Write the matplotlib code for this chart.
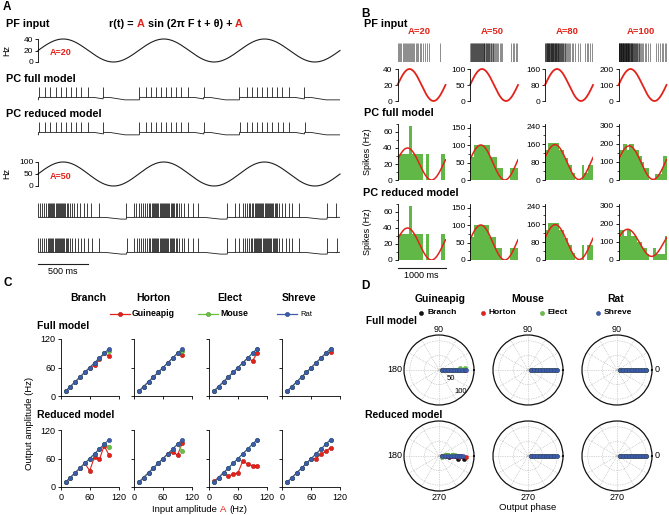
import numpy as np
import matplotlib
matplotlib.use('Agg')
import matplotlib.pyplot as plt
import matplotlib.transforms as mtransforms
from matplotlib.ticker import MultipleLocator
from matplotlib.offsetbox import TextArea, HPacker, AnnotationBbox

plt.rcParams['font.family'] = ['Liberation Sans', 'DejaVu Sans']

W, H = 669, 515
RED = '#e2231a'
GREEN = '#6abf45'
BLUE = '#3f5ca9'
BAR = '#62b846'
INK = '#1e1e1e'

# ---------------- A: PF input and PC voltage traces (times in ms) ----------------
A_amps = [20, 50]
F = 1.0  # Hz

spikes20_full = [5, 72, 123, 175, 225, 275, 325, 374, 424, 495, 647,
                 1008, 1074, 1124, 1174, 1223, 1273, 1323, 1372, 1422, 1491, 1646,
                 2001, 2072, 2125, 2175, 2226, 2276, 2327, 2378, 2428, 2492, 2646]
spikes20_reduced = [5, 73, 124, 176, 226, 276, 326, 376, 426, 497, 650,
                    1008, 1075, 1126, 1176, 1225, 1275, 1325, 1374, 1424, 1493, 1648,
                    2002, 2073, 2126, 2177, 2227, 2278, 2329, 2380, 2430, 2494, 2648]
spikes50_full = [0, 18, 42, 58, 77, 97, 108, 119, 130, 141, 152, 163, 174, 185, 196, 207, 218,
                 229, 240, 251, 262, 273, 284, 297, 317, 337, 360, 390, 422, 455, 489, 529, 604,
                 879, 951, 978, 1001, 1025, 1045, 1064, 1082, 1099, 1115, 1128, 1140, 1152, 1163,
                 1174, 1185, 1196, 1207, 1218, 1229, 1240, 1251, 1262, 1273, 1284, 1295, 1306,
                 1317, 1329, 1341, 1354, 1368, 1384, 1402, 1425, 1452, 1492, 1537, 1591,
                 1879, 1954, 1994, 2034, 2054, 2073, 2092, 2110, 2126, 2140, 2152, 2163, 2174,
                 2185, 2196, 2207, 2218, 2229, 2240, 2251, 2262, 2273, 2284, 2295, 2306, 2317,
                 2328, 2339, 2350, 2362, 2375, 2391, 2425, 2458, 2491, 2524, 2590,
                 2872, 2964]
spikes50_reduced = [0, 20, 44, 60, 79, 98, 109, 120, 131, 142, 153, 164, 175, 186, 197, 208, 219,
                    230, 241, 252, 263, 274, 286, 299, 319, 340, 363, 393, 425, 458, 492, 532, 606,
                    881, 953, 980, 1003, 1026, 1046, 1065, 1083, 1100, 1116, 1129, 1141, 1153, 1164,
                    1175, 1186, 1197, 1208, 1219, 1230, 1241, 1252, 1263, 1274, 1285, 1296, 1307,
                    1318, 1330, 1342, 1355, 1369, 1385, 1404, 1427, 1455, 1494, 1539, 1593,
                    1881, 1956, 1996, 2036, 2056, 2075, 2094, 2112, 2128, 2142, 2154, 2165, 2176,
                    2187, 2198, 2209, 2220, 2231, 2242, 2253, 2264, 2275, 2286, 2297, 2308, 2319,
                    2330, 2341, 2352, 2364, 2377, 2393, 2427, 2460, 2493, 2526, 2592,
                    2874, 2966]

# ---------------- B: PF rasters, PC histograms (30 ms bins) ----------------
B_amps = [20, 50, 80, 100]
raster20 = [14, 35, 56, 77, 105, 126, 147, 168, 189, 210, 231, 252, 273, 294, 322, 350, 378,
            406, 434, 462, 490, 525, 581, 609, 665, 875]
raster50 = [5, 15, 27, 36, 48, 58, 66, 77, 88, 97, 108, 118, 127, 139, 148, 158, 170, 180, 189,
            200, 211, 220, 231, 240, 252, 262, 271, 283, 293, 302, 314, 324, 335, 345, 356, 367,
            378, 390, 402, 415, 428, 441, 455, 470, 486, 503, 520, 540, 565, 590, 620, 650, 675,
            860, 890, 925, 955, 985]
raster80 = [3, 10, 18, 25, 33, 40, 47, 55, 62, 70, 77, 85, 92, 100, 107, 115, 122, 130, 137, 145,
            152, 160, 167, 175, 182, 190, 198, 205, 213, 221, 229, 237, 245, 253, 262, 270, 279,
            288, 297, 306, 316, 326, 336, 347, 358, 370, 382, 395, 409, 424, 440, 458, 478, 500,
            525, 555, 590, 630, 680, 730, 840, 870, 905, 940, 975]
raster100 = [2, 8, 14, 20, 26, 32, 38, 44, 50, 56, 62, 68, 74, 80, 86, 92, 98, 104, 110, 116, 122,
             128, 134, 140, 146, 152, 158, 164, 170, 176, 182, 188, 194, 200, 207, 214, 221, 228,
             235, 242, 250, 258, 266, 274, 282, 291, 300, 309, 318, 328, 338, 348, 359, 370, 382,
             394, 407, 421, 436, 452, 470, 490, 515, 545, 580, 620, 660, 790, 830, 870, 900, 935,
             965, 990]
rasters = [raster20, raster50, raster80, raster100]

bin_ms = 30
hist_full = [
    [33, 33, 33, 33, 33, 33, 33, 33, 67, 67, 33, 33, 33, 33, 33, 33, 33, 33, 0, 0, 33, 33, 0, 0,
     0, 0, 0, 0, 0, 0, 33, 33, 33, 0],
    [67, 67, 67, 100, 100, 100, 100, 100, 100, 100, 100, 100, 100, 100, 67, 67, 67, 67, 67, 33,
     33, 33, 33, 0, 0, 0, 0, 0, 33, 33, 33, 33, 33, 67],
    [133, 133, 167, 167, 167, 167, 167, 167, 167, 167, 133, 133, 133, 100, 100, 100, 67, 67, 67,
     33, 33, 0, 0, 0, 0, 0, 67, 33, 33, 33, 67, 67, 67, 67],
    [100, 167, 167, 200, 200, 200, 167, 200, 200, 200, 200, 167, 167, 167, 133, 133, 100, 100, 67,
     67, 67, 0, 0, 0, 0, 33, 33, 33, 33, 33, 67, 133, 133, 133],
]
hist_reduced = [
    [33, 33, 33, 33, 33, 33, 33, 33, 67, 67, 33, 33, 33, 33, 33, 33, 33, 33, 0, 0, 33, 33, 0, 0,
     0, 0, 0, 0, 0, 0, 33, 33, 33, 0],
    [67, 67, 67, 100, 100, 100, 100, 100, 100, 100, 100, 100, 100, 67, 67, 67, 67, 67, 33, 33,
     33, 33, 0, 0, 0, 0, 0, 0, 33, 33, 33, 33, 33, 67],
    [100, 133, 167, 167, 167, 167, 167, 167, 167, 167, 133, 133, 133, 100, 100, 100, 67, 67, 67,
     33, 33, 0, 0, 0, 0, 0, 67, 0, 0, 67, 67, 67, 67, 67],
    [133, 167, 167, 167, 133, 133, 167, 167, 167, 133, 133, 133, 133, 100, 100, 100, 67, 67, 67,
     67, 33, 0, 0, 0, 67, 67, 33, 33, 33, 33, 33, 33, 133, 133],
]
# sine fits drawn over the histograms: mean, amplitude, time of peak (ms)
fit_full_mean = [20, 50, 80, 96]
fit_full_amp = [20, 50, 78, 93]
fit_full_peak = [208, 225, 208, 222]
fit_reduced_mean = [20, 50, 80, 95]
fit_reduced_amp = [20, 50, 78, 75]
fit_reduced_peak = [208, 225, 215, 190]
hist_ylim = [70, 160, 250, 310]
hist_ticks = [[0, 20, 40, 60], [0, 50, 100, 150], [0, 80, 160, 240], [0, 100, 200, 300]]

# ---------------- C: output vs input amplitude ----------------
methods = ['Branch', 'Horton', 'Elect', 'Shreve']
species = ['Guineapig', 'Mouse', 'Rat']
input_amp = [10, 20, 30, 40, 50, 60, 70, 80, 90, 100]
# each: one list per method (Branch, Horton, Elect, Shreve)
full_guineapig = [[10, 20, 30, 40, 50, 60, 65, 77, 90, 84],
                  [10, 20, 30, 40, 50, 60, 70, 80, 90, 87],
                  [10, 20, 30, 40, 50, 60, 70, 80, 74, 91],
                  [10, 20, 30, 40, 50, 60, 70, 80, 90, 92]]
full_mouse = [[10, 20, 30, 40, 50, 60, 70, 80, 90, 95],
              [10, 20, 30, 40, 50, 60, 70, 80, 90, 95],
              [10, 20, 30, 40, 50, 60, 70, 80, 90, 100],
              [10, 20, 30, 40, 50, 60, 70, 80, 90, 100]]
full_rat = [[10, 20, 30, 40, 50, 60, 70, 80, 90, 100],
            [10, 20, 30, 40, 50, 60, 70, 80, 90, 100],
            [10, 20, 30, 40, 50, 60, 70, 80, 90, 100],
            [10, 20, 30, 40, 50, 60, 70, 80, 90, 100]]
reduced_guineapig = [[10, 20, 30, 40, 50, 34, 64, 58, 87, 67],
                     [10, 20, 30, 40, 50, 60, 70, 74, 67, 93],
                     [12, 20, 30, 23, 27, 30, 55, 48, 45, 45],
                     [10, 20, 30, 40, 50, 60, 60, 69, 75, 83]]
reduced_mouse = [[10, 20, 30, 40, 50, 60, 70, 80, 90, 85],
                 [10, 20, 30, 40, 50, 60, 70, 80, 90, 76],
                 [10, 20, 30, 40, 50, 60, 70, 80, 90, 100],
                 [10, 20, 30, 40, 50, 60, 70, 80, 90, 100]]
reduced_rat = [[10, 20, 30, 40, 50, 60, 70, 80, 90, 100],
               [10, 20, 30, 40, 50, 60, 70, 80, 90, 100],
               [10, 20, 30, 40, 50, 60, 70, 80, 90, 100],
               [10, 20, 30, 40, 50, 60, 70, 80, 90, 100]]

# ---------------- D: output phase (deg), one list per method ----------------
zero = [0, 0, 0, 0, 0, 0, 0, 0, 0, 0]
phase_full_guineapig = [zero, zero, [0, 0, 0, 0, 0, 0, 0, 0, 6, 4], zero]
phase_reduced_guineapig = [[0, 0, 0, 0, 0, -4, 0, 0, -7, -10],
                           [0, 0, 0, 0, 0, 0, 0, 0, -2, -2],
                           [-25, 12, 8, 10, 8, 6, 3, 4, 3, 4],
                           zero]
phase_other = [zero, zero, zero, zero]

fig = plt.figure(figsize=(W / 100, H / 100), dpi=100)


def pax(x0, y0, x1, y1, **kw):
    return fig.add_axes([x0 / W, 1 - y1 / H, (x1 - x0) / W, (y1 - y0) / H], **kw)


def left_spine(ax, size=6):
    for s in ('top', 'right', 'bottom'):
        ax.spines[s].set_visible(False)
    ax.spines['left'].set_linewidth(0.6)
    ax.tick_params(axis='y', length=2, width=0.6, pad=1.5, labelsize=size)
    ax.tick_params(axis='y', which='minor', length=1.2, width=0.5)
    ax.set_xticks([])
    ax.patch.set_alpha(0)


def draw_trace(ax, spikes, drop):
    sp = np.asarray(spikes, float)
    tt = np.arange(0, 3000.5, 1.0)
    i = np.searchsorted(sp, tt, side='right') - 1
    since = np.where(i >= 0, tt - sp[np.maximum(i, 0)], 1e9)
    level = -drop * np.clip((since - 60) / 150, 0, 1)
    ax.plot(tt, level, color=INK, lw=0.6)
    ax.vlines(sp, 0, 1, color=INK, lw=0.6)
    ax.set_xlim(0, 3000)
    ax.axis('off')


# ---- panel A ----
t = np.linspace(0, 3000, 1201)
for A, (ya, yb), ty in zip(A_amps, [(39, 62), (162, 186)], [0.43, 0.375]):
    ax = pax(38, ya, 340, yb)
    ax.plot(t, A * np.sin(2 * np.pi * F * t / 1000) + A, color=INK, lw=0.8, clip_on=False)
    ax.set_xlim(0, 3000)
    ax.set_ylim(0, 2 * A)
    ax.set_yticks([0, A, 2 * A])
    left_spine(ax)
    ax.set_ylabel('Hz', fontsize=6.5)
    ax.yaxis.set_label_coords(-27 / 302, 0.5)
    ax.text(0.04, ty, f'A={A}', color=RED, fontweight='bold', fontsize=6.5,
            transform=ax.transAxes, va='center')

ax = pax(38, 86, 340, 101); draw_trace(ax, spikes20_full, 0.24); ax.set_ylim(-0.35, 1.1)
ax = pax(38, 121, 340, 136); draw_trace(ax, spikes20_reduced, 0.24); ax.set_ylim(-0.35, 1.1)
ax = pax(38, 202, 340, 221); draw_trace(ax, spikes50_full, 0.12); ax.set_ylim(-0.25, 1.05)
ax = pax(38, 237, 340, 256); draw_trace(ax, spikes50_reduced, 0.12); ax.set_ylim(-0.25, 1.05)
tr = mtransforms.blended_transform_factory(ax.transData, ax.transAxes)
ax.plot([0, 500], [-8 / 19, -8 / 19], transform=tr, color=INK, lw=0.8, clip_on=False)
ax.text(250, -16 / 19, '500 ms', transform=tr, ha='center', va='center', fontsize=6.5)

# ---- panel B ----
bx = [397.5, 470, 545, 618.5]
bw = 48
tb = np.linspace(0, 1000, 301)
edges = np.arange(len(hist_full[0])) * bin_ms
for k, A in enumerate(B_amps):
    x0 = bx[k]
    r = pax(x0, 43, x0 + bw, 62)
    r.vlines(rasters[k], 0, 1, color='k', lw=0.7, alpha=0.45)
    r.set_xlim(0, 1000)
    r.set_ylim(0, 1)
    r.axis('off')
    r.text(0.46, 1 + 11 / 19, f'A={A}', color=RED, fontweight='bold', fontsize=6.8,
           transform=r.transAxes, ha='center', va='center')

    s = pax(x0, 69, x0 + bw, 101)
    s.plot(tb, A * np.sin(2 * np.pi * F * tb / 1000) + A, color=RED, lw=1.3, clip_on=False)
    s.set_xlim(0, 1000)
    s.set_ylim(0, 2 * A)
    s.set_yticks([0, A, 2 * A])
    left_spine(s)

    rows = [((124, 180), hist_full, fit_full_mean, fit_full_amp, fit_full_peak),
            ((204, 260), hist_reduced, fit_reduced_mean, fit_reduced_amp, fit_reduced_peak)]
    for (ya, yb), hist, mean, amp, pk in rows:
        h = pax(x0, ya, x0 + bw, yb)
        h.bar(edges, hist[k], width=bin_ms, align='edge', color=BAR, lw=0)
        h.plot(tb, mean[k] + amp[k] * np.cos(2 * np.pi * (tb - pk[k]) / 1000),
               color=RED, lw=1.1)
        h.set_xlim(0, 1000)
        h.set_ylim(0, hist_ylim[k])
        h.set_yticks(hist_ticks[k])
        h.yaxis.set_minor_locator(MultipleLocator(hist_ticks[k][1] / 2))
        left_spine(h)
        if k == 0:
            h.set_ylabel('Spikes (Hz)', fontsize=6.5)
            h.yaxis.set_label_coords((372 - x0) / bw, 0.5)
    if k == 0:
        tr = mtransforms.blended_transform_factory(h.transData, h.transAxes)
        h.plot([0, 1000], [-8 / 56, -8 / 56], transform=tr, color=INK, lw=0.8, clip_on=False)
        h.text(500, -16 / 56, '1000 ms', transform=tr, ha='center', va='center', fontsize=6.5)

# ---- panel C ----
cx = [60.7, 134, 209, 282.3]
cw = 58
crow = [(339, 396), (430, 487)]
c_sets = [(full_guineapig, full_mouse, full_rat),
          (reduced_guineapig, reduced_mouse, reduced_rat)]
c_cols = [RED, GREEN, BLUE]
c_edge = ['#b01010', '#4a9a2a', '#243f85']
for ri, (ya, yb) in enumerate(crow):
    for c in range(4):
        ax = pax(cx[c], ya, cx[c] + cw, yb)
        for series, col, ec in zip(c_sets[ri], c_cols, c_edge):
            ax.plot(input_amp, series[c], '-o', color=col, lw=0.8, ms=3.1, mec=ec, mew=0.35,
                    clip_on=False)
        ax.set_xlim(0, 120)
        ax.set_ylim(0, 120)
        ax.set_xticks([0, 60, 120])
        ax.set_yticks([0, 60, 120])
        for s in ('top', 'right'):
            ax.spines[s].set_visible(False)
        for s in ('left', 'bottom'):
            ax.spines[s].set_linewidth(0.6)
        ax.tick_params(length=2.5, width=0.6, pad=1.5, labelsize=6.5)
        ax.patch.set_alpha(0)
        if c > 0:
            ax.set_yticklabels([])
        if ri == 0:
            ax.set_xticklabels([])

# ---- panel D ----
dcx = [439, 528, 617]
dcy = [370, 456]
R = 35
d_amp = [(full_guineapig, full_mouse, full_rat), (reduced_guineapig, reduced_mouse, reduced_rat)]
d_phase = [(phase_full_guineapig, phase_other, phase_other),
           (phase_reduced_guineapig, phase_other, phase_other)]
d_cols = ['#111111', RED, GREEN, BLUE]
d_edge = ['#000000', '#b01010', '#4a9a2a', '#243f85']
for ri, cy in enumerate(dcy):
    for j, cxx in enumerate(dcx):
        ax = pax(cxx - R, cy - R, cxx + R, cy + R, projection='polar')
        for m in range(4):
            ax.plot(np.deg2rad(d_phase[ri][j][m]), d_amp[ri][j][m], 'o', ls='none',
                    color=d_cols[m], mec=d_edge[m], mew=0.3, ms=3.0, clip_on=False)
        ax.set_ylim(0, 120)
        ax.set_xticks(np.deg2rad(np.arange(0, 360, 30)))
        ax.set_xticklabels([])
        ax.set_yticks([50, 100])
        ax.grid(True, color='#b0b0b0', lw=0.5, ls=(0, (1, 1.5)))
        ax.spines['polar'].set_linewidth(0.9)
        ax.spines['polar'].set_color('#111111')
        ax.patch.set_alpha(0)
        if ri == 0 and j == 0:
            ax.set_rlabel_position(-58)
            ax.set_yticklabels(['50', '100'], fontsize=5.5)
            for lbl in ax.get_yticklabels():
                lbl.set_rotation(48)
        else:
            ax.set_yticklabels([])
        kw = dict(transform=ax.transAxes, fontsize=6.5, va='center')
        if ri == 0:
            ax.text(0.5, 1 + 6 / 70, '90', ha='center', **kw)
        else:
            ax.text(0.5, -7 / 70, '270', ha='center', **kw)
        if j == 0:
            ax.text(-2 / 70, 0.5, '180', ha='right', **kw)
        if j == 2:
            ax.text(1 + 3 / 70, 0.5, '0', ha='left', **kw)

# ---- text layer in pixel coordinates ----
ov = fig.add_axes([0, 0, 1, 1])
ov.set_xlim(0, W)
ov.set_ylim(H, 0)
ov.axis('off')


def label(x, y, s, size=7.8, bold=True, **kw):
    ov.text(x, y, s, fontsize=size, fontweight='bold' if bold else 'normal', va='center', **kw)


def multicolor(x, y, parts, size, bold):
    boxes = [TextArea(s, textprops=dict(color=c, fontsize=size,
                                        fontweight='bold' if bold else 'normal'))
             for s, c in parts]
    pack = HPacker(children=boxes, align='baseline', pad=0, sep=2.2)
    ov.add_artist(AnnotationBbox(pack, (x, y), xycoords='data', frameon=False,
                                 box_alignment=(0.5, 0.5), pad=0))


label(3, 7, 'A', 8.5)
label(6, 24, 'PF input')
multicolor(176, 24, [('r(t) =', 'k'), ('A', RED), ('sin (2\u03c0 F t + \u03b8) +', 'k'), ('A', RED)],
           7.8, True)
label(6, 79, 'PC full model')
label(6, 114, 'PC reduced model')

label(361, 14, 'B', 8.5)
label(364, 24, 'PF input')
label(364, 113, 'PC full model')
label(363, 193, 'PC reduced model')

label(3, 283, 'C', 8.5)
for name, x in zip(methods, [88, 153, 230, 299]):
    label(x, 298, name, 7.5, ha='center')
for (x, col, ec), name in zip([(110, RED, c_edge[0]), (198, GREEN, c_edge[1]), (277, BLUE, c_edge[2])],
                              species):
    ov.plot([x, x + 20], [314, 314], color=col, lw=0.9)
    ov.plot(x + 10, 314, 'o', color=col, mec=ec, mew=0.35, ms=3.1)
    if name == 'Rat':
        label(x + 23, 314.5, name, 5.5, bold=False)
    else:
        label(x + 22, 314, name, 6.3)
label(37, 326, 'Full model', 7.5)
label(37, 415, 'Reduced model', 7.5)
label(29, 423, 'Output amplitude (Hz)', 6.8, bold=False, rotation=90, ha='center')
multicolor(200, 509, [('Input amplitude', 'k'), ('A', RED), ('(Hz)', 'k')], 6.8, False)

label(361, 286, 'D', 8.5)
for name, x in zip(species, [440, 528, 616]):
    label(x, 299, name, 7.5, ha='center')
for x, col, ec, name in zip([421, 482.7, 541.7, 598], d_cols, d_edge, methods):
    ov.plot(x, 313, 'o', color=col, mec=ec, mew=0.3, ms=3.0)
    label(x + 6, 313, name, 6.0)
label(366, 321, 'Full model', 7.3)
label(365, 415, 'Reduced model', 7.5)
label(528, 508, 'Output phase', 6.8, bold=False, ha='center')

fig.savefig('out.png', dpi=100)
